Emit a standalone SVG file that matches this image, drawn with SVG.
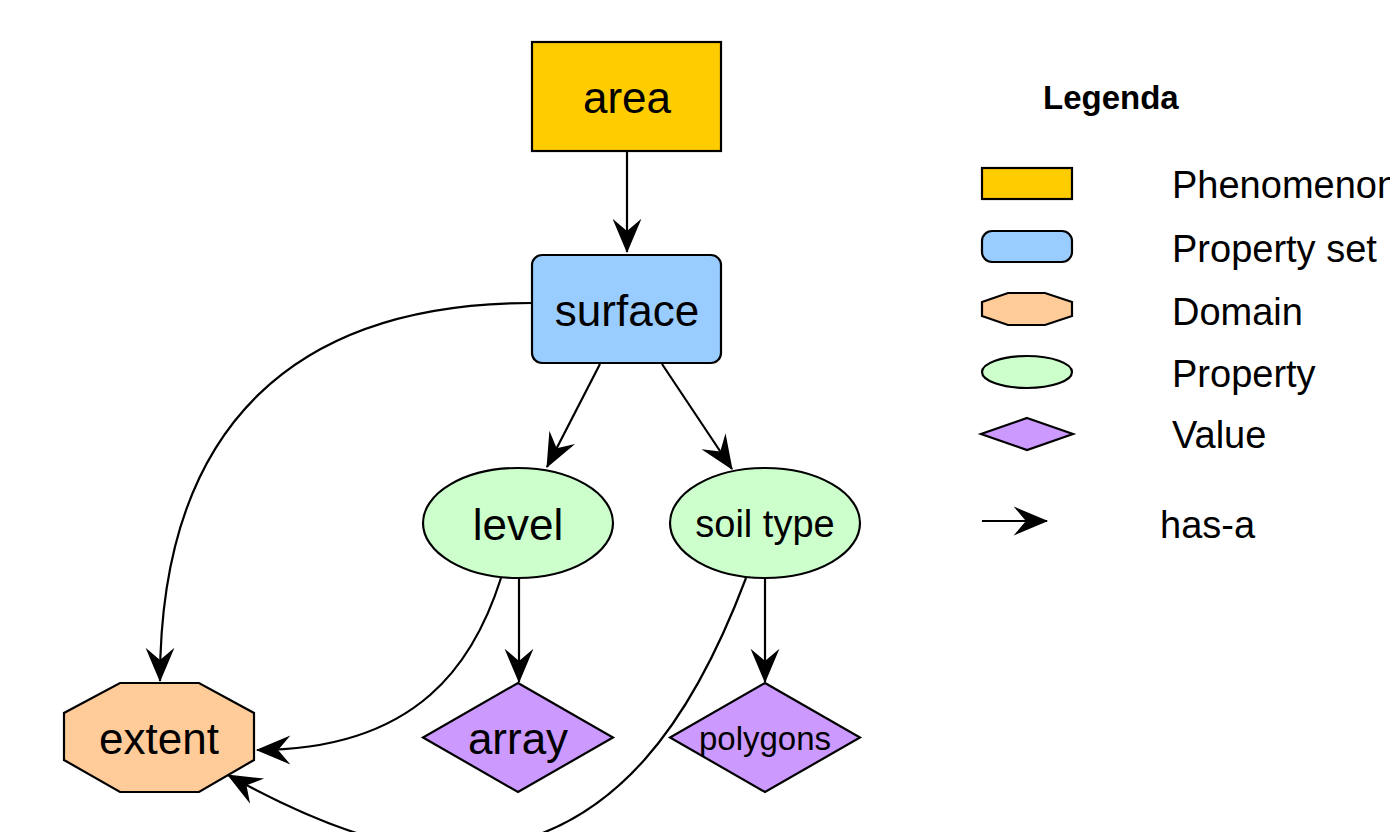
<svg xmlns="http://www.w3.org/2000/svg" width="1390" height="832" viewBox="0 0 1390 832">
<defs>
<marker id="ah" markerUnits="userSpaceOnUse" markerWidth="40" markerHeight="40" viewBox="-32 -16 36 32" refX="0" refY="0" orient="auto">
<path d="M1,0 L-30,-13 L-19,0 L-30,13 Z" fill="#000"/>
</marker>
</defs>
<style>
.n{stroke:#000;stroke-width:2.2}
.t{font-family:"Liberation Sans",Arial,sans-serif;fill:#000;text-anchor:middle}
.lt{font-family:"Liberation Sans",Arial,sans-serif;fill:#000;font-size:38px}
.e{fill:none;stroke:#000;stroke-width:2.2;marker-end:url(#ah)}
.phen{fill:#FFCC00}.pset{fill:#99CCFF}.dom{fill:#FFCC99}.prop{fill:#CCFFCC}.val{fill:#CC99FF}
</style>
<rect width="1390" height="832" fill="#fff"/>
<g id="connectors">
<path class="e" d="M627,152 L627,252"/>
<path class="e" d="M600,364 L547,467"/>
<path class="e" d="M662,364 L732,469"/>
<path class="e" d="M519,578 L519,682"/>
<path class="e" d="M765,578 L765,682"/>
<path class="e" d="M532,303 C300,303 160,420 160,681"/>
<path class="e" d="M501,578 C475,660 420,750 257,750"/>
<path class="e" d="M746,578 C700,700 620,850 450,850 C380,850 300,815 228,775"/>
</g>
<g id="area">
<rect class="n phen" x="532" y="42" width="189" height="109"/>
<text class="t" x="627" y="113" font-size="44">area</text>
</g>
<g id="surface">
<rect class="n pset" x="532" y="255" width="189" height="108" rx="10"/>
<text class="t" x="627" y="326" font-size="44">surface</text>
</g>
<g id="level">
<ellipse class="n prop" cx="518" cy="523" rx="95" ry="55"/>
<text class="t" x="518" y="540" font-size="44">level</text>
</g>
<g id="soiltype">
<ellipse class="n prop" cx="765" cy="523" rx="95" ry="55"/>
<text class="t" x="765" y="537" font-size="38">soil type</text>
</g>
<g id="array">
<polygon class="n val" points="518,683 613,737.5 518,792 423,737.5"/>
<text class="t" x="518" y="754" font-size="44">array</text>
</g>
<g id="polygons">
<polygon class="n val" points="765,683 860,737.5 765,792 670,737.5"/>
<text class="t" x="765" y="750" font-size="33">polygons</text>
</g>
<g id="extent">
<polygon class="n dom" points="120,683 199,683 254,713 254,760 199,792 120,792 64,760 64,713"/>
<text class="t" x="159" y="754" font-size="44">extent</text>
</g>
<g id="legend">
<text x="1043" y="109" font-family="Liberation Sans,Arial,sans-serif" font-weight="bold" font-size="33">Legenda</text>
<rect class="n phen" x="982" y="168" width="90" height="31"/>
<text class="lt" x="1172" y="198">Phenomenon</text>
<rect class="n pset" x="982" y="231" width="90" height="31" rx="10"/>
<text class="lt" x="1172" y="262">Property set</text>
<polygon class="n dom" points="1008,293 1045,293 1072,302 1072,316 1045,325 1008,325 982,316 982,302"/>
<text class="lt" x="1172" y="325">Domain</text>
<ellipse class="n prop" cx="1027" cy="372" rx="45" ry="16"/>
<text class="lt" x="1172" y="387">Property</text>
<polygon class="n val" points="1027,418 1073,434 1027,450 981,434"/>
<text class="lt" x="1172" y="448">Value</text>
<path class="e" d="M982,521 L1047,521"/>
<text class="lt" x="1160" y="538">has-a</text>
</g>
</svg>
